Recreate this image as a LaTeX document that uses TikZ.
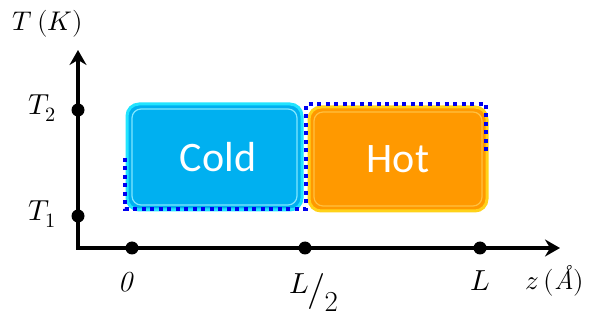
\documentclass[tikz,border=0pt]{standalone}
\usepackage{fontspec}
\usepackage{unicode-math}
\setmathfont{Latin Modern Math}
\newfontfamily\boxfont{Carlito}
\usetikzlibrary{arrows.meta}
\definecolor{coldfill}{HTML}{00B0F0}
\definecolor{coldedge}{HTML}{22E4FF}
\definecolor{coldhi}{HTML}{7FE6FF}
\definecolor{hotfill}{HTML}{FF9900}
\definecolor{hotedge}{HTML}{FFD21A}
\definecolor{hothi}{HTML}{FFC040}
\definecolor{profile}{HTML}{0000F0}
\tikzset{
  axis/.style={line width=3.6pt,-{Stealth[length=15pt,width=17pt,inset=5pt]}},
  tickdot/.style={circle,fill=black,inner sep=0pt,minimum size=13pt},
  axlabel/.style={font=\fontsize{27}{29}\selectfont},
  ticklabel/.style={font=\fontsize{29}{31}\selectfont},
  coldbox/.style={rounded corners=12pt,fill=coldfill,draw=coldedge,line width=3pt},
  hotbox/.style={rounded corners=12pt,fill=hotfill,draw=hotedge,line width=3pt},
  boxtext/.style={text=white,font=\boxfont\fontsize{42}{44}\selectfont},
  profileline/.style={draw=profile,line width=4pt,dash pattern=on 4pt off 4.5pt}
}
\begin{document}
\begin{tikzpicture}[x=1pt,y=-1pt]
\useasboundingbox (0,0) rectangle (602,320);
% boxes
\draw[coldbox] (127,104) rectangle (302,210);
\draw[rounded corners=9pt,draw=coldhi,line width=1.2pt] (132,109) rectangle (297,205);
\node[boxtext] (cold) at (218,157) {Cold};
\draw[hotbox] (309,107) rectangle (487,211);
\draw[rounded corners=9pt,draw=hothi,line width=1.2pt] (314,112) rectangle (482,206);
\node[boxtext] (hot) at (398,159) {Hot};
% temperature profile
\draw[profileline] (124.5,158) -- (124.5,209) -- (306,209) -- (306,104) -- (486,104) -- (486,153);
% axes
\coordinate (O) at (78,248);
\coordinate (ytop) at (78,50);
\coordinate (xend) at (560,248);
\draw[axis,line cap=butt] (78,250) -- (ytop);
\draw[axis] (76.2,248) -- (xend);
% tick dots
\node[tickdot] (t2) at (78,110) {};
\node[tickdot] (t1) at (78,216) {};
\node[tickdot] (z0) at (132,248) {};
\node[tickdot] (zh) at (305,248) {};
\node[tickdot] (zl) at (480,248) {};
% labels
\node[axlabel] (ylab) at (48,24) {$T\,(K)$};
\node[ticklabel] (t2lab) at (42,108) {$T_2$};
\node[ticklabel] (t1lab) at (42,214) {$T_1$};
\node[ticklabel] (z0lab) at (125,282) {\itshape 0};
\node[ticklabel,inner sep=0pt] (zhlab) at (314,292) {\raisebox{7pt}{$L$}\kern-2pt{\fontsize{36}{36}\selectfont$/$}\kern-1pt\raisebox{-11pt}{2}};
\node[ticklabel] (zllab) at (480,281) {$L$};
\node[axlabel] (xlab) at (555,281) {$z\,(\mathit{\AA})$};
\end{tikzpicture}
\end{document}
